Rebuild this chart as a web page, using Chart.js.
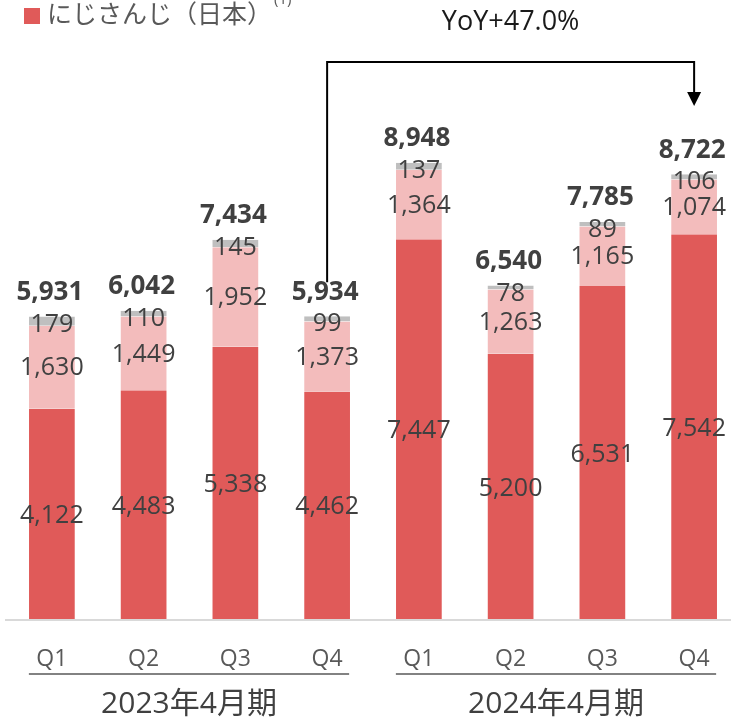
<!DOCTYPE html>
<html>
<head>
<meta charset="utf-8">
<script src="https://cdn.jsdelivr.net/npm/chart.js@4"></script>
<style>
  html, body { margin: 0; padding: 0; background: #ffffff; overflow: hidden; }
  #wrap { position: relative; width: 742px; height: 720px; }
</style>
</head>
<body>
<div id="wrap"><canvas id="c" width="742" height="720"></canvas></div>
<script>
const categories = ['Q1', 'Q2', 'Q3', 'Q4', 'Q1', 'Q2', 'Q3', 'Q4'];
const groups = ['2023年4月期', '2024年4月期'];
const mainValues = [4122, 4483, 5338, 4462, 7447, 5200, 6531, 7542];
const secondValues = [1630, 1449, 1952, 1373, 1364, 1263, 1165, 1074];
const thirdValues = [179, 110, 145, 99, 137, 78, 89, 106];
const totals = [5931, 6042, 7434, 5934, 8948, 6540, 7785, 8722];
const legendLabel = 'にじさんじ（日本）';
const legendNote = '(1)';
const yoyLabel = 'YoY+47.0%';

const RED = '#E05A59';
const PINK = '#F3BCBC';
const GRAY = '#BFBFBF';
const TEXT = '#404040';
const NUMFONT = '"Open Sans", "Noto Sans", sans-serif';
const JPFONT = '"Open Sans", "Noto Sans CJK JP", sans-serif';

const fmt = v => v.toLocaleString('en-US');

const overlay = {
  id: 'overlay',
  afterDatasetsDraw(chart) {
    const ctx = chart.ctx;
    const x = chart.scales.x, y = chart.scales.y;
    const area = chart.chartArea;
    ctx.save();
    // axis line
    ctx.strokeStyle = '#D9D9D9';
    ctx.lineWidth = 2;
    ctx.beginPath();
    ctx.moveTo(5, area.bottom + 1);
    ctx.lineTo(742, area.bottom + 1);
    ctx.stroke();

    // segment labels
    ctx.textAlign = 'center';
    ctx.textBaseline = 'middle';
    ctx.fillStyle = TEXT;
    for (let i = 0; i < categories.length; i++) {
      const cx = x.getPixelForValue(i);
      const y0 = y.getPixelForValue(0);
      const y1 = y.getPixelForValue(mainValues[i]);
      const y2 = y.getPixelForValue(mainValues[i] + secondValues[i]);
      const y3 = y.getPixelForValue(mainValues[i] + secondValues[i] + thirdValues[i]);
      ctx.font = '25px ' + NUMFONT;
      ctx.fillText(fmt(mainValues[i]), cx, (y0 + y1) / 2 + 2);
      ctx.fillText(fmt(secondValues[i]), cx, (y1 + y2) / 2 + 1);
      ctx.fillText(fmt(thirdValues[i]), cx, y3 + 8);
      ctx.font = 'bold 26px ' + NUMFONT;
      ctx.fillText(fmt(totals[i]), cx - 2, y3 - 24);
    }

    // group underlines and labels
    ctx.strokeStyle = '#595959';
    ctx.lineWidth = 1.5;
    ctx.fillStyle = TEXT;
    ctx.font = '30px ' + JPFONT;
    for (let g = 0; g < groups.length; g++) {
      const a = x.getPixelForValue(g * 4) - 23;
      const b = x.getPixelForValue(g * 4 + 3) + 22;
      ctx.beginPath();
      ctx.moveTo(a, area.bottom + 55);
      ctx.lineTo(b, area.bottom + 55);
      ctx.stroke();
      ctx.fillText(groups[g], (a + b) / 2, area.bottom + 85);
    }

    // legend
    ctx.fillStyle = RED;
    ctx.fillRect(24, 8, 16, 16);
    ctx.fillStyle = '#595959';
    ctx.textAlign = 'left';
    ctx.font = '25px "Noto Sans CJK JP", sans-serif';
    ctx.fillText(legendLabel, 47, 13);
    ctx.font = '15px ' + NUMFONT;
    ctx.fillText(legendNote, 274, 0);

    // YoY arrow
    const xa = x.getPixelForValue(3);
    const xb = x.getPixelForValue(7);
    const yTop = 62;
    const yStart = y.getPixelForValue(totals[3]) - 34;
    ctx.strokeStyle = '#000000';
    ctx.lineWidth = 2;
    ctx.beginPath();
    ctx.moveTo(xa, yStart);
    ctx.lineTo(xa, yTop);
    ctx.lineTo(xb, yTop);
    ctx.lineTo(xb, 94);
    ctx.stroke();
    ctx.fillStyle = '#000000';
    ctx.beginPath();
    ctx.moveTo(xb - 7, 92);
    ctx.lineTo(xb + 7, 92);
    ctx.lineTo(xb, 106);
    ctx.closePath();
    ctx.fill();
    ctx.fillStyle = '#1A1A1A';
    ctx.textAlign = 'center';
    ctx.font = '27px ' + NUMFONT;
    ctx.fillText(yoyLabel, (x.getPixelForValue(5)), 22);
    ctx.restore();
  }
};

new Chart(document.getElementById('c'), {
  type: 'bar',
  data: {
    labels: categories,
    datasets: [
      { label: legendLabel, data: mainValues, backgroundColor: RED, borderColor: '#ffffff', borderWidth: {left: 1, right: 1, top: 0, bottom: 0}, borderSkipped: false },
      { label: 'second', data: secondValues, backgroundColor: PINK, borderColor: '#ffffff', borderWidth: {left: 1, right: 1, top: 0, bottom: 0}, borderSkipped: false },
      { label: 'third', data: thirdValues, backgroundColor: GRAY, borderColor: '#ffffff', borderWidth: {left: 1, right: 1, top: 0, bottom: 0}, borderSkipped: false }
    ]
  },
  options: {
    responsive: false,
    animation: false,
    layout: { padding: { left: 6, right: 2, top: 109, bottom: 0 } },
    datasets: { bar: { barPercentage: 0.52, categoryPercentage: 1.0 } },
    plugins: { legend: { display: false }, tooltip: { enabled: false } },
    scales: {
      x: {
        stacked: true,
        grid: { display: false, drawTicks: false },
        border: { display: false },
        ticks: { color: '#595959', font: { size: 23, family: NUMFONT }, padding: 27, maxRotation: 0 },
        afterFit: s => { s.height = 101; }
      },
      y: {
        stacked: true,
        display: false,
        min: 0,
        max: 10000
      }
    }
  },
  plugins: [overlay]
});
</script>
</body>
</html>
